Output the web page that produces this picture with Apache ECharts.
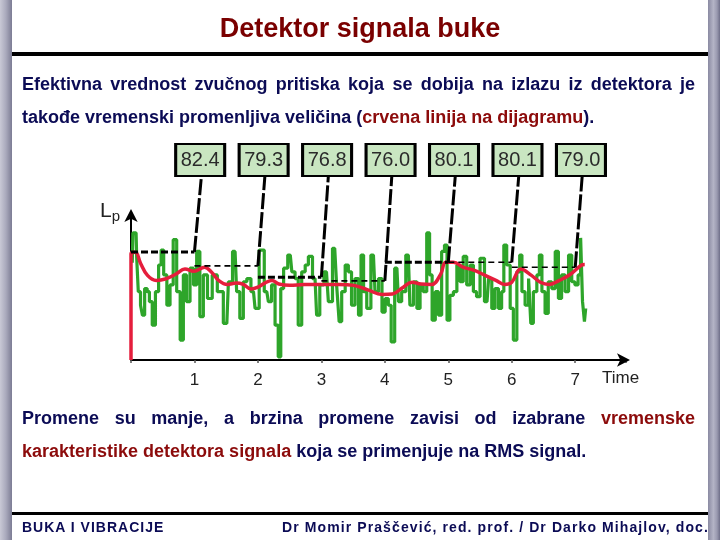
<!DOCTYPE html>
<html>
<head>
<meta charset="utf-8">
<script src="https://cdn.jsdelivr.net/npm/echarts@6/dist/echarts.min.js"></script>
<style>
  html, body { margin:0; padding:0; background:#fff; }
  #wrap { position:relative; width:720px; height:540px; overflow:hidden; background:#fff; }
  #chart { position:absolute; left:0; top:0; width:720px; height:540px; }
  .barL { position:absolute; left:0; top:0; width:12px; height:540px;
          background:linear-gradient(to right,#c9c9d6 0%,#a9a9bc 50%,#7c7c94 100%); }
  .barR { position:absolute; left:708px; top:0; width:12px; height:540px;
          background:linear-gradient(to right,#8a8aa2 0%,#b4b4c6 45%,#9a9ab0 75%,#6e6e88 100%); }
  .rule { position:absolute; left:12px; width:696px; background:#000; }
  .t { position:absolute; font-family:"Liberation Sans", Arial, sans-serif; font-weight:bold; color:#0b0b55; white-space:nowrap; }
  .just { text-align:justify; text-align-last:justify; white-space:normal; }
  .red { color:#8c0b0b; }
</style>
</head>
<body>
<div id="wrap">
  <div id="chart"></div>
  <div class="barL"></div>
  <div class="barR"></div>
  <div class="rule" style="top:52px;height:4px;"></div>
  <div class="rule" style="top:512px;height:3px;"></div>
  <div class="t" style="left:0;width:720px;text-align:center;top:12px;font-size:27px;line-height:32px;color:#7a0000;">Detektor signala buke</div>
  <div class="t just" style="left:22px;width:673px;top:73px;font-size:18px;line-height:22px;">Efektivna vrednost zvučnog pritiska koja se dobija na izlazu iz detektora je</div>
  <div class="t" style="left:22px;top:106px;font-size:18px;line-height:22px;">takođe vremenski promenljiva veličina (<span class="red">crvena linija na dijagramu</span>).</div>
  <div class="t just" style="left:22px;width:673px;top:407px;font-size:18px;line-height:22px;">Promene su manje, a brzina promene zavisi od izabrane <span class="red">vremenske</span></div>
  <div class="t" style="left:22px;top:440px;font-size:18px;line-height:22px;"><span class="red">karakteristike detektora signala</span> koja se primenjuje na RMS signal.</div>
  <div class="t" style="left:22px;top:518px;font-size:14px;line-height:18px;letter-spacing:1px;">BUKA I VIBRACIJE</div>
  <div class="t" style="right:11px;top:518px;font-size:14px;line-height:18px;letter-spacing:1.1px;">Dr Momir Praščević, red. prof. / Dr Darko Mihajlov, doc.</div>
</div>
<script>
// ---- data ----
const xTickLabels = ['1', '2', '3', '4', '5', '6', '7'];
const levelValues = [82.4, 79.3, 76.8, 76.0, 80.1, 80.1, 79.0];
const boxLabels = ['82.4', '79.3', '76.8', '76.0', '80.1', '80.1', '79.0'];

// green: instantaneous sound pressure level (time, dB)
const greenT = [0.02,0.04,0.08,0.10,0.13,0.17,0.19,0.24,0.27,0.31,0.36,0.41,0.46,0.49,0.54,0.59,0.64,0.69,0.75,0.80,
  0.85,0.90,0.96,1.01,1.06,1.11,1.17,1.24,1.32,1.40,1.51,1.56,1.64,1.69,1.74,1.80,1.85,1.93,1.98,2.06,
  2.14,2.19,2.24,2.30,2.34,2.38,2.43,2.51,2.56,2.61,2.66,2.72,2.77,2.82,2.90,2.95,3.00,3.08,3.14,3.21,
  3.27,3.29,3.35,3.40,3.45,3.50,3.56,3.61,3.64,3.69,3.74,3.82,3.87,3.93,3.98,4.03,4.08,4.12,4.19,4.24,
  4.29,4.37,4.42,4.48,4.53,4.58,4.63,4.69,4.72,4.77,4.82,4.87,4.92,4.96,5.00,5.05,5.11,5.16,5.21,5.26,
  5.32,5.37,5.42,5.47,5.53,5.61,5.66,5.71,5.76,5.82,5.86,5.89,5.95,6.00,6.05,6.11,6.14,6.18,6.24,6.29,
  6.31,6.37,6.42,6.45,6.50,6.55,6.60,6.66,6.71,6.76,6.81,6.87,6.92,6.97,7.02,7.07,7.10,7.13,7.16,7.17];
const greenV = [80.0,86.6,86.6,81.0,73.6,70.6,68.4,74.3,73.6,71.4,66.2,73.6,79.5,82.8,77.3,70.6,75.1,85.1,73.6,62.9,
  77.3,71.4,78.8,75.1,82.5,68.1,77.3,72.1,77.3,73.6,66.6,75.8,82.5,73.6,67.7,75.8,76.5,73.6,69.9,82.8,
  73.6,71.4,75.1,66.2,59.2,74.3,78.8,81.7,78.0,76.5,66.2,78.0,79.5,81.4,76.5,68.4,75.1,78.0,71.4,83.2,
  75.1,67.0,73.6,79.5,78.0,70.6,76.5,68.4,81.7,73.6,69.9,81.7,73.6,76.5,69.1,72.1,70.6,62.5,78.8,71.4,
  73.6,81.7,70.6,75.8,69.9,75.1,73.6,86.6,77.3,67.3,73.6,68.4,82.5,83.9,67.3,72.8,73.6,79.5,75.8,81.4,
  75.1,79.5,73.6,72.5,81.0,71.4,76.5,69.9,74.3,69.9,73.6,83.9,79.5,69.9,62.9,78.0,81.7,73.6,70.6,76.5,
  66.6,73.6,77.3,81.7,73.6,68.8,75.8,74.3,82.5,72.1,77.3,73.6,81.7,75.8,75.1,77.3,85.5,71.4,67.0,69.9];

// red: detector output (time, dB)
const redT = [0.00,0.00,0.07,0.15,0.26,0.40,0.54,0.71,0.85,0.99,1.16,1.27,1.38,1.52,1.66,1.77,1.89,2.00,2.11,2.22,
  2.33,2.50,2.73,3.00,3.28,3.51,3.73,3.96,4.12,4.29,4.43,4.57,4.74,4.88,4.96,5.08,5.24,5.41,5.58,5.75,
  5.89,6.00,6.14,6.31,6.45,6.59,6.75,6.92,7.09,7.15];
const redV = [58.5,82.0,82.3,79.9,77.2,76.1,76.4,77.5,78.6,78.1,79.0,77.9,76.1,75.2,75.5,75.2,74.2,74.6,75.5,76.1,
  75.3,75.0,75.2,75.2,75.2,75.0,74.0,73.0,73.1,74.6,75.7,75.3,75.2,77.5,80.1,80.1,79.0,78.3,77.2,76.1,
  75.2,75.7,78.6,77.2,75.7,75.2,76.1,77.4,79.4,79.6];

// ---- layout / style constants ----
const Y_MIN = 58.5, Y_MAX = 91, X_MAX = 7.8;
const BOX_Y = 102.7, LINK_TOP_Y = 99.2, BOX_DX = 1.09, LINK_DX = 1.11;
const thickLevel = [true, false, true, false, true, false, false];
const FONT = 'Liberation Sans, Arial, sans-serif';

const chart = echarts.init(document.getElementById('chart'), null, {renderer: 'canvas'});

const series = [];
series.push({
  type: 'line', name: 'signal', data: greenT.map((t, i) => [t, greenV[i]]),
  step: 'middle', showSymbol: false, symbol: 'none', lineStyle: {color: '#2ea52a', width: 3.2}, z: 2, animation: false
});
series.push({
  type: 'line', name: 'detector', data: redT.map((t, i) => [t, redV[i]]),
  smooth: 0.4, showSymbol: false, symbol: 'none', lineStyle: {color: '#e51e3c', width: 3.5}, z: 4, animation: false
});
levelValues.forEach((v, i) => {
  series.push({
    type: 'line', data: [[i, v], [i + 1, v]], showSymbol: false, symbol: 'none',
    lineStyle: {color: '#000', width: thickLevel[i] ? 3 : 1.6, type: thickLevel[i] ? [7, 3] : [6, 4]},
    z: 5, animation: false
  });
  series.push({
    type: 'line', data: [[i + 1, v], [i + LINK_DX, LINK_TOP_Y]], showSymbol: false, symbol: 'none', clip: false,
    lineStyle: {color: '#000', width: 3, type: [16, 3]}, z: 5, animation: false
  });
});
series.push({
  type: 'scatter', clip: false, z: 10, animation: false,
  data: boxLabels.map((s, i) => [i + BOX_DX, BOX_Y, s]),
  symbol: 'rect', symbolSize: [49, 32],
  itemStyle: {color: '#c9e6c1', borderColor: '#000', borderWidth: 2.5, opacity: 1},
  label: {show: true, position: 'inside', formatter: p => p.value[2], fontSize: 20,
          fontFamily: FONT, color: '#2a2a2a'},
  emphasis: {disabled: true}
});

chart.setOption({
  backgroundColor: '#fff',
  animation: false,
  grid: {left: 131, right: 94, top: 213, bottom: 180, containLabel: false},
  xAxis: {
    type: 'value', min: 0, max: X_MAX, interval: 1,
    axisLine: {show: true, lineStyle: {color: '#000', width: 2}, symbol: ['none', 'arrow'], symbolSize: [10, 13], symbolOffset: [0, 4]},
    axisTick: {show: true, length: 3, lineStyle: {color: '#555', width: 1.5}},
    axisLabel: {
      fontSize: 17, color: '#222', margin: 12, fontFamily: FONT,
      formatter: v => (Number.isInteger(v) && v >= 1 && v <= xTickLabels.length) ? xTickLabels[v - 1] : ''
    },
    splitLine: {show: false}
  },
  yAxis: {
    type: 'value', min: Y_MIN, max: Y_MAX,
    axisLine: {show: true, lineStyle: {color: '#000', width: 2}, symbol: ['none', 'arrow'], symbolSize: [10, 13], symbolOffset: [0, 4]},
    axisTick: {show: false}, axisLabel: {show: false}, splitLine: {show: false}
  },
  graphic: [
    {type: 'text', left: 100, top: 201, z: 20,
     style: {rich: {L: {fontSize: 21, fontFamily: FONT, fill: '#222'},
                    p: {fontSize: 15, fontFamily: FONT, fill: '#222', padding: [10, 0, 0, 0]}},
             text: '{L|L}{p|p}'}},
    {type: 'text', left: 602, top: 370, z: 20,
     style: {text: 'Time', fontSize: 17, fontFamily: FONT, fill: '#222'}}
  ],
  series: series
});
</script>
</body>
</html>
